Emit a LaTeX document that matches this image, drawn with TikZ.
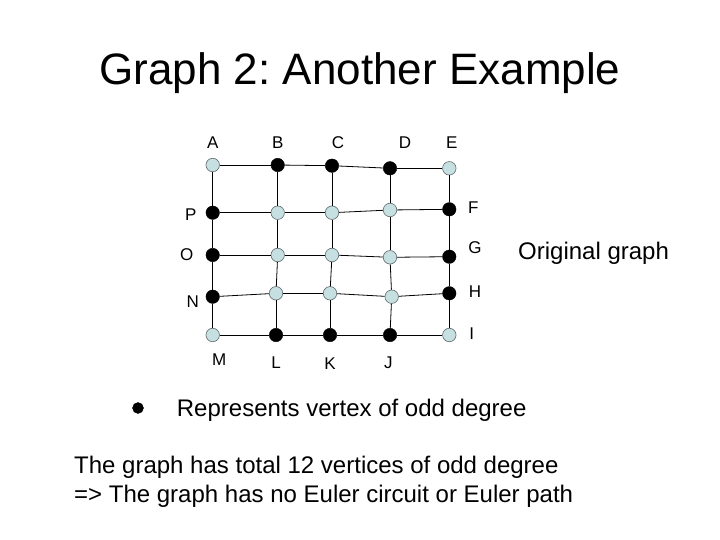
\documentclass[tikz,border=0pt]{standalone}
\usepackage{fontspec}
\setmainfont{Liberation Sans}
\usetikzlibrary{positioning}
\frenchspacing
\definecolor{evenfill}{RGB}{198,224,226}
\definecolor{evenrim}{RGB}{95,105,110}
\tikzset{
  oddv/.style={circle,fill=black,draw=black,inner sep=0pt,minimum size=13.5pt},
  evenv/.style={circle,fill=evenfill,draw=evenrim,line width=0.6pt,inner sep=0pt,minimum size=13.5pt},
  vname/.style={inner sep=0pt,font=\fontsize{17}{19}\selectfont},
  bodytext/.style={inner sep=0pt,anchor=base west,font=\fontsize{24}{28}\selectfont},
  gedge/.style={draw=black,line width=0.8pt}
}
\newcommand{\oddvertex}[2]{\node[oddv] (#1) at #2 {};}
\newcommand{\evenvertex}[2]{\node[evenv] (#1) at #2 {};}
\newcommand{\vlabel}[3]{\node[vname] (l#1) at #2 {#3};}

\begin{document}
\begin{tikzpicture}[x=1pt,y=-1pt]
		\useasboundingbox (0,0) rectangle (720,540);
		\node[inner sep=0pt,anchor=base,font=\fontsize{44}{50}\selectfont] (title) at (360,85) {Graph 2: Another Example};
		% top row
		\evenvertex{A}{(212.7,165)} \oddvertex{B}{(277.7,165)} \oddvertex{C}{(332,165.7)} \oddvertex{D}{(390,168.3)} \evenvertex{E}{(449.3,168.3)}
		\oddvertex{P}{(212.7,212.7)} \evenvertex{pb}{(277.7,212.7)} \evenvertex{pc}{(332,212.7)} \evenvertex{pd}{(390,210)} \oddvertex{F}{(449.3,209.3)}
		\oddvertex{O}{(212.7,255)} \evenvertex{ob}{(277.7,255)} \evenvertex{oc}{(332,255)} \evenvertex{od}{(390,257.3)} \oddvertex{G}{(449.3,256.7)}
		\oddvertex{N}{(212.7,296.7)} \evenvertex{nb}{(276,293.3)} \evenvertex{nc}{(330,293.3)} \evenvertex{nd}{(391.7,296.7)} \oddvertex{H}{(449.3,293.3)}
		\evenvertex{M}{(212.7,335)} \oddvertex{L}{(276,335)} \oddvertex{K}{(330,335)} \oddvertex{J}{(390,335)} \evenvertex{I}{(449.3,335)}
		% edges
		\foreach \u/\v in {A/B,B/C,C/D,D/E,P/pb,pb/pc,pc/pd,pd/F,O/ob,ob/oc,oc/od,od/G,N/nb,nb/nc,nc/nd,nd/H,M/L,L/K,K/J,J/I,
			A/P,P/O,O/N,N/M,B/pb,pb/ob,ob/nb,nb/L,C/pc,pc/oc,oc/nc,nc/K,D/pd,pd/od,od/nd,nd/J,E/F,F/G,G/H,H/I}
			\draw[gedge] (\u) -- (\v);
		% names
		\vlabel{A}{(212.7,142.7)}{A} \vlabel{B}{(277.7,142.7)}{B} \vlabel{C}{(338,142.7)}{C} \vlabel{D}{(405,142.7)}{D} \vlabel{E}{(451.7,142.7)}{E}
		\vlabel{F}{(473.3,208)}{F} \vlabel{G}{(475,248)}{G} \vlabel{H}{(475,291.7)}{H} \vlabel{I}{(471.7,333.3)}{I}
		\vlabel{P}{(190.7,215)}{P} \vlabel{O}{(186.7,255)}{O} \vlabel{N}{(192.7,301.7)}{N}
		\vlabel{M}{(219.3,360)}{M} \vlabel{L}{(276,362.7)}{L} \vlabel{K}{(330,363.3)}{K} \vlabel{J}{(388.3,362.7)}{J}
		\node[bodytext] (orig) at (518,259) {Original graph};
		% key
		\node[oddv,minimum size=11pt] (key) at (138,408) {};
		\node[bodytext] (keytext) at (176.7,416) {Represents vertex of odd degree};
		\node[bodytext] (line1) at (74,473) {The graph has total 12 vertices of odd degree};
		\node[bodytext] (line2) at (74,502) {=> The graph has no Euler circuit or Euler path};
\end{tikzpicture}
\end{document}
